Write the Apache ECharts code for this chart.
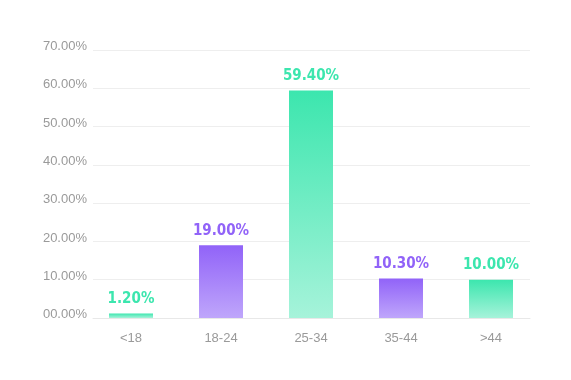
<!DOCTYPE html>
<html><head><meta charset="utf-8">
<script src="https://cdn.jsdelivr.net/npm/echarts@6/dist/echarts.min.js"></script>
<style>html,body{margin:0;padding:0;background:#fff}#c{width:571px;height:380px}</style>
</head><body><div id="c"></div>
<script>
const categories = ['<18', '18-24', '25-34', '35-44', '>44'];
const values = [1.2, 19.0, 59.4, 10.3, 10.0];
const yTicks = [0, 10, 20, 30, 40, 50, 60, 70];
const green = ['#3ce6ae', '#a6f3da'];
const purple = ['#9163f8', '#bfa6fb'];
const palette = [green, purple, green, purple, green];

const chart = echarts.init(document.getElementById('c'));
chart.setOption({
  animation: false,
  grid: [
    { left: 93, right: 41, top: 50, bottom: 62 },
    { left: 86, right: 35, top: 50, bottom: 62 }
  ],
  xAxis: [
    { type: 'category', gridIndex: 0, data: categories, show: true,
      axisLine: { lineStyle: { color: '#e8e8e8' } }, axisTick: { show: false }, axisLabel: { show: false } },
    { type: 'category', gridIndex: 1, data: categories,
      axisLine: { show: false }, axisTick: { show: false },
      axisLabel: { color: '#9a9a9a', fontSize: 13, margin: 14, fontFamily: 'Liberation Sans' } }
  ],
  yAxis: [
    { type: 'value', gridIndex: 0, min: yTicks[0], max: yTicks[yTicks.length - 1], interval: 10,
      axisLine: { show: false }, axisTick: { show: false },
      splitLine: { lineStyle: { color: '#eeeeee' } },
      axisLabel: {
        color: '#9a9a9a', fontSize: 13, margin: 6, fontFamily: 'Liberation Sans',
        verticalAlign: 'bottom', lineHeight: 7,
        formatter: v => (v < 10 ? '0' : '') + v.toFixed(2) + '%'
      } },
    { type: 'value', gridIndex: 1, min: yTicks[0], max: yTicks[yTicks.length - 1], interval: 10, show: false,
      splitLine: { show: false } }
  ],
  series: [{
    type: 'bar', xAxisIndex: 1, yAxisIndex: 1, barWidth: 44,
    data: values.map((v, i) => ({
      value: v,
      itemStyle: { color: new echarts.graphic.LinearGradient(0, 0, 0, 1, [
        { offset: 0, color: palette[i][0] }, { offset: 1, color: palette[i][1] }]) },
      label: { color: palette[i][0] }
    })),
    label: {
      show: true, position: 'top', distance: 7,
      fontSize: 15, fontWeight: 'bold', fontFamily: 'DejaVu Sans Condensed',
      formatter: p => p.value.toFixed(2) + '%'
    }
  }]
});
</script></body></html>
